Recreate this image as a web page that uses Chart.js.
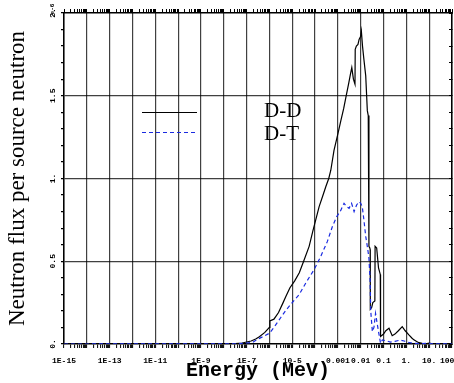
<!DOCTYPE html>
<html>
<head>
<meta charset="utf-8">
<script src="https://cdn.jsdelivr.net/npm/chart.js@4.4.1/dist/chart.umd.min.js"></script>
<style>
  html, body { margin: 0; padding: 0; background: #fff; }
  #wrap { width: 454px; height: 383px; position: relative; }
</style>
</head>
<body>
<div id="wrap"><canvas id="grafica"></canvas></div>
<script>
// energia en MeV, flux en unitats de 1e-6
const ddEnergy = [1e-15, 1e-8, 3.16e-8, 6.31e-8, 1e-7, 1.58e-7, 2.51e-7, 3.63e-7, 6.31e-7, 1e-6,
  1.05e-6, 1.58e-6, 2.51e-6, 3.98e-6, 5.37e-6, 7.94e-6, 1.26e-5, 2.04e-5, 3.16e-5, 5.50e-5, 7.94e-5,
  1.07e-4, 1.51e-4, 2.24e-4, 2.95e-4, 3.98e-4, 4.90e-4, 6.76e-4, 1e-3, 1.35e-3, 1.78e-3,
  2.24e-3, 3.02e-3, 3.55e-3, 4.07e-3, 4.79e-3, 5.62e-3, 5.75e-3, 6.46e-3, 7.59e-3, 8.51e-3, 1e-2,
  1.07e-2, 1.20e-2, 1.38e-2, 1.66e-2, 1.95e-2, 2.14e-2, 2.29e-2, 2.30e-2, 2.51e-2, 2.60e-2, 2.63e-2, 3.02e-2,
  3.39e-2, 4.17e-2, 4.27e-2, 5.01e-2, 6.03e-2, 6.92e-2, 7.20e-2, 7.41e-2, 0.1, 0.126, 0.174,
  0.209, 0.240, 0.316, 0.447, 0.661, 0.891, 1.29, 1.78, 2.14, 2.82,
  3.55, 5.01, 7.94, 10, 12.6, 20, 100];
const ddFlux = [0, 0, 0.002, 0.006, 0.012, 0.018, 0.03, 0.044, 0.07, 0.10,
  0.14, 0.15, 0.19, 0.25, 0.29, 0.34, 0.38, 0.43, 0.50, 0.59, 0.68,
  0.75, 0.83, 0.90, 0.95, 1.00, 1.05, 1.17, 1.27, 1.35, 1.42,
  1.49, 1.58, 1.63, 1.67, 1.60, 1.57, 1.78, 1.80, 1.81, 1.84, 1.86,
  1.89, 1.80, 1.72, 1.62, 1.41, 1.38, 1.35, 0.59, 0.58, 0.57, 0.21, 0.22,
  0.25, 0.26, 0.59, 0.58, 0.46, 0.43, 0.42, 0.045, 0.06, 0.08, 0.095,
  0.07, 0.05, 0.06, 0.08, 0.105, 0.08, 0.055, 0.035, 0.025, 0.015,
  0.008, 0.004, 0.002, 0.006, 0.002, 0, 0];

const dtEnergy = [1e-15, 3.16e-8, 1e-7, 1.86e-7, 3.16e-7, 6.31e-7, 1e-6, 1.58e-6, 3.16e-6, 5.37e-6,
  1e-5, 2.04e-5, 3.98e-5, 9.12e-5, 1.78e-4, 3.47e-4, 5.75e-4, 8.91e-4, 1.26e-3, 1.86e-3,
  2.40e-3, 3.09e-3, 3.98e-3, 5.13e-3, 6.61e-3, 8.51e-3, 1e-2, 1.17e-2, 1.38e-2, 1.66e-2,
  2.00e-2, 2.29e-2, 2.57e-2, 2.75e-2, 3.24e-2, 3.80e-2, 4.47e-2, 5.25e-2, 6.31e-2, 7.41e-2,
  8.91e-2, 0.126, 0.200, 0.316, 0.550, 0.794, 1.26, 2.00, 3.98, 10,
  12.6, 100];
const dtFlux = [0, 0.001, 0.006, 0.01, 0.03, 0.05, 0.065, 0.10, 0.16, 0.205,
  0.25, 0.30, 0.37, 0.45, 0.53, 0.62, 0.71, 0.77, 0.80, 0.85,
  0.83, 0.82, 0.85, 0.80, 0.84, 0.86, 0.85, 0.83, 0.75, 0.65,
  0.58, 0.52, 0.39, 0.20, 0.075, 0.10, 0.185, 0.125, 0.06, 0.004,
  0.024, 0.02, 0.012, 0.016, 0.024, 0.018, 0.01, 0.005, 0.002, 0.004,
  0.001, 0];

const xDecades = [1e-15, 1e-14, 1e-13, 1e-12, 1e-11, 1e-10, 1e-9, 1e-8, 1e-7, 1e-6,
  1e-5, 1e-4, 1e-3, 1e-2, 1e-1, 1, 10, 100];
// l'últim porta espais perquè no quedi tallat a la vora
const xLabels = {1e-15: '1E-15', 1e-13: '1E-13', 1e-11: '1E-11', 1e-9: '1E-9', 1e-7: '1E-7',
  1e-5: '10-5', 1e-3: '0.001', 1e-2: '0.01', 1e-1: '0.1', 1: '1.', 10: '10.', 100: '100  '};
const yLabels = {0: '0.', 0.5: '0.5', 1: '1.', 1.5: '1.5', 2: '2.'};
const seriesNames = ['D-D', 'D-T'];

const monoBold = { family: "'Liberation Mono', 'DejaVu Sans Mono', monospace", size: 8, weight: 'bold' };

function logTicks(scale) {
    const t = [];
    xDecades.forEach((d, i) => {
        t.push({ value: d, major: true });
        if (i < xDecades.length - 1) for (let k = 2; k <= 9; k++) t.push({ value: d * k, major: false });
    });
    scale.ticks = t;
}
const esMajor = (v) => xDecades.some(d => Math.abs(v / d - 1) < 1e-6);

// llegenda i multiplicador e-6 dibuixats a mà
const extres = {
    id: 'extres',
    afterDraw(chart) {
        const ctx = chart.ctx;
        ctx.save();
        const files = [{ y: 112.5, color: '#000', dash: [], w: 1 }, { y: 132.5, color: '#1a2be0', dash: [4, 3], w: 1 }];
        files.forEach((f, i) => {
            ctx.strokeStyle = f.color; ctx.lineWidth = f.w; ctx.setLineDash(f.dash);
            ctx.beginPath(); ctx.moveTo(142, f.y); ctx.lineTo(197, f.y); ctx.stroke();
            ctx.setLineDash([]);
            ctx.fillStyle = '#000';
            ctx.font = "21px 'Liberation Serif', 'Times New Roman', serif";
            ctx.textBaseline = 'middle'; ctx.textAlign = 'left';
            ctx.fillText(seriesNames[i], 264, f.y - 1 + i * 3);
        });
        ctx.translate(52, 9);
        ctx.rotate(-Math.PI / 2);
        ctx.font = "bold 6px 'Liberation Mono', monospace";
        ctx.textAlign = 'center'; ctx.textBaseline = 'middle';
        ctx.fillText('e-6', 0, 0);
        ctx.restore();
    }
};

new Chart(document.getElementById('grafica'), {
    type: 'line',
    data: {
        datasets: [
            { label: seriesNames[0], data: ddEnergy.map((e, i) => ({ x: e, y: ddFlux[i] })), borderColor: '#000', borderWidth: 1.2, pointRadius: 0, tension: 0, fill: false, order: 1 },
            { label: seriesNames[1], data: dtEnergy.map((e, i) => ({ x: e, y: dtFlux[i] })), borderColor: '#1a2be0', borderWidth: 1.2, borderDash: [4, 3], pointRadius: 0, tension: 0, fill: false, order: 0 }
        ]
    },
    options: {
        responsive: true, maintainAspectRatio: false, animation: false,
        layout: { padding: 0 },
        plugins: { legend: { display: false }, tooltip: { enabled: false } },
        scales: {
            x: {
                type: 'logarithmic', position: 'bottom', min: 1e-15, max: 100,
                afterBuildTicks: logTicks,
                afterFit: (s) => { s.height = 39; s.paddingLeft = 0; s.paddingRight = 0; },
                grid: { color: (c) => esMajor(c.tick.value) ? 'rgba(0,0,0,0.75)' : 'rgba(0,0,0,0)', lineWidth: 1.2, tickColor: '#000', tickLength: 4, tickWidth: 1 },
                border: { color: '#000', width: 1.5 },
                ticks: { autoSkip: false, maxRotation: 0, minRotation: 0, padding: 8, color: '#000', font: monoBold,
                    callback: (v) => { for (const k in xLabels) if (Math.abs(v / Number(k) - 1) < 1e-6) return xLabels[k]; return ''; } },
                title: { display: true, text: 'Energy (MeV)', color: '#000', padding: { top: 0, bottom: 0 },
                    font: { family: "'Liberation Mono', 'DejaVu Sans Mono', monospace", size: 20, weight: 'bold' } }
            },
            x2: {
                type: 'logarithmic', position: 'top', min: 1e-15, max: 100,
                afterBuildTicks: logTicks,
                afterFit: (s) => { s.height = 13; s.paddingLeft = 0; s.paddingRight = 0; },
                grid: { drawOnChartArea: false, tickColor: '#000', tickLength: 4 },
                border: { color: '#000', width: 1.5 },
                ticks: { display: false, autoSkip: false }
            },
            y: {
                position: 'left', min: 0, max: 2,
                afterFit: (s) => { s.width = 64; },
                grid: { color: (c) => (c.tick.value > 0.01 && c.tick.value < 1.99 && Math.abs(c.tick.value * 2 - Math.round(c.tick.value * 2)) < 1e-6) ? 'rgba(0,0,0,0.75)' : 'rgba(0,0,0,0)', lineWidth: 1.2, tickColor: '#000', tickLength: 3 },
                border: { color: '#000', width: 1.5 },
                ticks: { stepSize: 0.1, autoSkip: false, minRotation: 90, maxRotation: 90, crossAlign: 'center', padding: 1, color: '#000', font: monoBold,
                    callback: (v) => { const r = Math.round(v * 10) / 10; return yLabels[r] !== undefined ? yLabels[r] : ''; } },
                title: { display: true, text: 'Neutron flux per source neutron', color: '#000', padding: { top: 4, bottom: 0 },
                    font: { family: "'Liberation Serif', 'Times New Roman', serif", size: 23 } }
            },
            y2: {
                position: 'right', min: 0, max: 2,
                afterFit: (s) => { s.width = 2; },
                grid: { drawOnChartArea: false, tickColor: '#000', tickLength: -3 },
                border: { color: '#000', width: 1.5 },
                ticks: { display: false, stepSize: 0.1 }
            }
        }
    },
    plugins: [extres]
});
</script>
</body>
</html>
